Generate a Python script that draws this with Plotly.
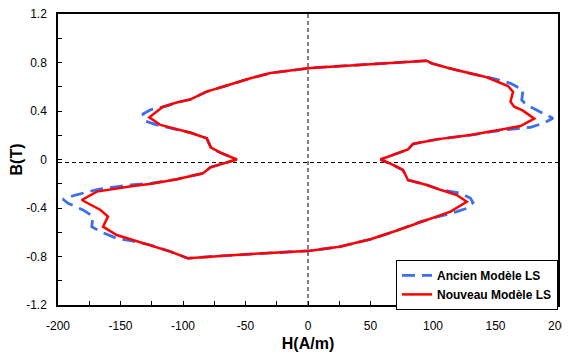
import plotly.graph_objects as go

# Nouveau Modèle LS (red, solid)
H_new = [95, 70, 50, 25, 2, -30, -46, -65, -81, -94, -105, -116, -127,
         -118, -105, -94, -81, -78, -70, -57,
         -78, -84, -105, -125, -140, -155, -169, -181,
         -166, -160, -164, -153, -140, -126, -110, -96,
         -70, -46, -20, 2, 25, 50, 70, 84, 100, 114, 127,
         119, 106, 95, 80, 76, 68, 58,
         80, 84, 103, 130, 156, 170, 181,
         172, 165, 162, 164, 160, 143, 125, 113, 99, 95]
B_new = [0.815, 0.80, 0.788, 0.772, 0.755, 0.713, 0.67, 0.61, 0.56, 0.496, 0.47, 0.436, 0.348,
         0.285, 0.25, 0.221, 0.175, 0.10, 0.056, 0.0,
         -0.064, -0.114, -0.163, -0.20, -0.219, -0.24, -0.265, -0.334,
         -0.416, -0.47, -0.554, -0.623, -0.665, -0.705, -0.76, -0.815,
         -0.795, -0.779, -0.765, -0.752, -0.72, -0.658, -0.59, -0.54, -0.48, -0.43, -0.348,
         -0.293, -0.25, -0.21, -0.169, -0.087, -0.045, 0.0,
         0.084, 0.128, 0.166, 0.202, 0.249, 0.276, 0.337,
         0.403, 0.436, 0.477, 0.559, 0.606, 0.678, 0.72, 0.752, 0.793, 0.815]

# Ancien Modèle LS (blue, dashed)
H_old = [95, 70, 50, 25, 2, -30, -46, -65, -81, -94, -105, -113, -126, -132, -131, -121,
         -105, -94, -81, -77, -70, -57,
         -78, -84, -105, -125, -142, -168, -186, -196, -192, -180, -172, -173, -166, -153, -142,
         -126, -110, -96,
         -70, -46, -20, 2, 25, 50, 70, 84, 90, 119, 127, 132, 130, 122,
         106, 95, 80, 76, 68, 58,
         80, 84, 103, 130, 156, 178, 188, 196, 186, 175, 171, 172, 162, 151,
         125, 113, 99, 95]
B_old = [0.815, 0.80, 0.788, 0.772, 0.755, 0.713, 0.67, 0.61, 0.56, 0.496, 0.47, 0.44, 0.41, 0.375, 0.32, 0.285,
         0.25, 0.221, 0.175, 0.09, 0.056, 0.0,
         -0.064, -0.114, -0.163, -0.195, -0.21, -0.246, -0.293, -0.328, -0.361, -0.416, -0.47, -0.554, -0.595, -0.65, -0.67,
         -0.705, -0.76, -0.815,
         -0.795, -0.779, -0.765, -0.752, -0.72, -0.658, -0.59, -0.54, -0.513, -0.43, -0.403, -0.356, -0.32, -0.279,
         -0.25, -0.21, -0.169, -0.087, -0.045, 0.0,
         0.084, 0.128, 0.166, 0.202, 0.243, 0.266, 0.298, 0.34, 0.394, 0.449, 0.49, 0.573, 0.628, 0.661,
         0.72, 0.752, 0.793, 0.815]

x_tick_vals = [-200, -150, -100, -50, 0, 50, 100, 150, 200]
x_tick_text = ["-200", "-150", "-100", "-50", "0", "50", "100", "150", "200"]
y_tick_vals = [-1.2, -0.8, -0.4, 0, 0.4, 0.8, 1.2]
y_tick_text = ["-1.2", "-0.8", "-0.4", "0", "0.4", "0.8", "1.2"]

ref_H = 0
ref_B = -0.025

FONT = "Liberation Sans, Arial, sans-serif"

fig = go.Figure()
fig.add_trace(go.Scatter(x=H_old, y=B_old, mode="lines", name="Ancien Modèle LS",
                         line=dict(color="#3c6ef0", width=2.8, dash="13px,7px")))
fig.add_trace(go.Scatter(x=H_new, y=B_new, mode="lines", name="Nouveau Modèle LS",
                         line=dict(color="#ff0000", width=2.5)))

fig.add_shape(type="line", xref="x", yref="paper", x0=ref_H, x1=ref_H, y0=0, y1=1,
              line=dict(color="black", width=1, dash="4px,3px"), layer="below")
fig.add_shape(type="line", xref="paper", yref="y", x0=0, x1=1, y0=ref_B, y1=ref_B,
              line=dict(color="black", width=1, dash="4px,3px"), layer="below")

axis_common = dict(showline=True, linecolor="black", linewidth=1.5, mirror=True,
                   showgrid=False, zeroline=False, ticks="inside", ticklen=4,
                   tickcolor="black", automargin=False, ticklabeloverflow="allow",
                   tickfont=dict(family=FONT, size=12, color="black"))

fig.update_xaxes(range=[-200, 200], tickmode="array", tickvals=x_tick_vals, ticktext=x_tick_text,
                 minor=dict(ticks="inside", dtick=25, ticklen=4, tickcolor="black"),
                 ticklabelstandoff=9,
                 title=dict(text="H(A/m)", font=dict(family=FONT, size=16, color="black", weight="bold")),
                 **axis_common)
fig.update_yaxes(range=[-1.2, 1.2], tickmode="array", tickvals=y_tick_vals, ticktext=y_tick_text,
                 minor=dict(ticks="inside", dtick=0.2, tick0=0, ticklen=4, tickcolor="black"),
                 ticklabelstandoff=7,
                 title=dict(text="B(T)", font=dict(family=FONT, size=16, color="black", weight="bold")),
                 **axis_common)

fig.update_layout(
    width=562, height=344,
    margin=dict(l=50, r=12, t=6, b=47),
    plot_bgcolor="white", paper_bgcolor="white",
    showlegend=True,
    legend=dict(x=0.676, y=0.155, xanchor="left", yanchor="top",
                bordercolor="black", borderwidth=1, bgcolor="white",
                font=dict(family=FONT, size=12, color="black", weight="bold"),
                tracegroupgap=0, itemwidth=30),
)

fig.write_html("out.html")
